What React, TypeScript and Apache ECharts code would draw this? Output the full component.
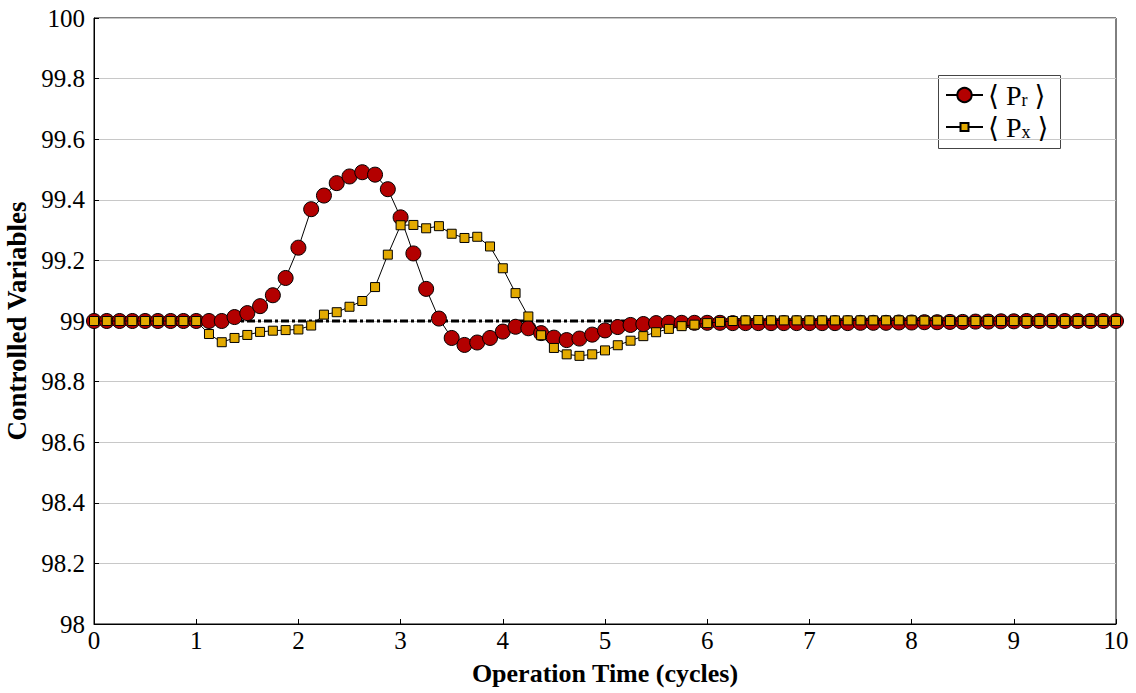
import React, { useEffect, useRef } from "react";
import * as echarts from "echarts";

const timeCycles = [
  0, 0.125, 0.25, 0.375, 0.5, 0.625, 0.75, 0.875,
  1, 1.125, 1.25, 1.375, 1.5, 1.625, 1.75, 1.875,
  2, 2.125, 2.25, 2.375, 2.5, 2.625, 2.75, 2.875,
  3, 3.125, 3.25, 3.375, 3.5, 3.625, 3.75, 3.875,
  4, 4.125, 4.25, 4.375, 4.5, 4.625, 4.75, 4.875,
  5, 5.125, 5.25, 5.375, 5.5, 5.625, 5.75, 5.875,
  6, 6.125, 6.25, 6.375, 6.5, 6.625, 6.75, 6.875,
  7, 7.125, 7.25, 7.375, 7.5, 7.625, 7.75, 7.875,
  8, 8.125, 8.25, 8.375, 8.5, 8.625, 8.75, 8.875,
  9, 9.125, 9.25, 9.375, 9.5, 9.625, 9.75, 9.875,
  10,
];

const prValues = [
  99, 99, 99, 99, 99, 99, 99, 99,
  99, 99, 99, 99.013, 99.026, 99.049, 99.085, 99.142,
  99.242, 99.369, 99.414, 99.455, 99.477, 99.491, 99.483, 99.435,
  99.342, 99.223, 99.106, 99.008, 98.944, 98.921, 98.929, 98.944,
  98.965, 98.981, 98.976, 98.96, 98.945, 98.937, 98.942, 98.955,
  98.969, 98.98, 98.987, 98.99, 98.993, 98.994, 98.994, 98.994,
  98.994, 98.994, 98.993, 98.993, 98.993, 98.993, 98.993, 98.993,
  98.993, 98.993, 98.993, 98.993, 98.994, 98.994, 98.994, 98.995,
  98.995, 98.996, 98.996, 98.997, 98.997, 98.998, 98.998, 98.999,
  98.999, 99, 99, 99, 99, 99, 99, 99,
  99,
];

const pxValues = [
  99, 99, 99, 99, 99, 99, 99, 99,
  99, 98.957, 98.93, 98.944, 98.954, 98.964, 98.968, 98.97,
  98.972, 98.985, 99.021, 99.029, 99.047, 99.066, 99.112, 99.219,
  99.316, 99.317, 99.306, 99.313, 99.288, 99.274, 99.278, 99.246,
  99.174, 99.092, 99.015, 98.953, 98.911, 98.89, 98.885, 98.89,
  98.903, 98.92, 98.935, 98.95, 98.963, 98.974, 98.983, 98.988,
  98.993, 98.997, 99.0, 99.002, 99.003, 99.002, 99.002, 99.002,
  99.002, 99.002, 99.002, 99.002, 99.002, 99.002, 99.002, 99.002,
  99.002, 99.001, 99.001, 99, 99, 99, 99, 99,
  99, 99, 99, 99, 99, 99, 99, 99,
  99,
];

const setpointTimes = [0, 10];
const setpointValues = [99, 99];

const FONT = "'Liberation Serif', 'DejaVu Serif', serif";

export default function App() {
  const ref = useRef<HTMLDivElement>(null);
  useEffect(() => {
    if (!ref.current) return;
    const chart = echarts.init(ref.current, null, { renderer: "svg" });
    const pair = (xs: number[], ys: number[]) => xs.map((x, i) => [x, ys[i]]);
    const legendRich = {
      s: { fontSize: 18, fontFamily: FONT, lineHeight: 18, padding: [13, 0, 0, 0], verticalAlign: "bottom" },
    };
    const legendFmt = (name: string) => (name === "Pr" ? "⟨ P{s|r} ⟩" : "⟨ P{s|x} ⟩");
    chart.setOption({
      animation: false,
      backgroundColor: "#ffffff",
      grid: {
        left: 94,
        right: 20,
        top: 18,
        bottom: 69,
        show: true,
        borderColor: "#000",
        borderWidth: 1,
        backgroundColor: "transparent",
        outerBoundsMode: "none",
        containLabel: false,
      },
      xAxis: {
        type: "value",
        min: 0,
        max: 10,
        interval: 1,
        name: "Operation Time (cycles)",
        nameLocation: "middle",
        nameGap: 36,
        nameTextStyle: { fontFamily: FONT, fontSize: 26, fontWeight: "bold", color: "#000" },
        axisLine: { show: true, lineStyle: { color: "#000", width: 1 } },
        axisTick: { show: true, inside: true, length: 5, lineStyle: { color: "#000" } },
        axisLabel: { fontFamily: FONT, fontSize: 25, color: "#000", margin: 4 },
        splitLine: { show: false },
      },
      yAxis: {
        type: "value",
        min: 98,
        max: 100,
        interval: 0.2,
        name: "Controlled Variables",
        nameLocation: "middle",
        nameGap: 57,
        nameRotate: 90,
        nameTextStyle: { fontFamily: FONT, fontSize: 27, fontWeight: "bold", color: "#000" },
        axisLine: { show: true, lineStyle: { color: "#000", width: 1 } },
        axisTick: { show: true, inside: true, length: 5, lineStyle: { color: "#000" } },
        axisLabel: { fontFamily: FONT, fontSize: 25, color: "#000", margin: 9 },
        splitLine: { show: true, lineStyle: { color: "#c8c8c8", width: 1 } },
      },
      legend: [
        {
          data: ["Pr"],
          left: 945,
          top: 78,
          padding: 0,
          orient: "vertical",
          itemWidth: 37,
          itemHeight: 18,
          formatter: legendFmt,
          textStyle: { fontFamily: FONT, fontSize: 28, color: "#000", rich: legendRich },
        },
        {
          data: ["Px"],
          left: 945,
          top: 110,
          padding: 0,
          orient: "vertical",
          itemWidth: 37,
          itemHeight: 10,
          formatter: legendFmt,
          textStyle: { fontFamily: FONT, fontSize: 28, color: "#000", rich: legendRich },
        },
      ],
      graphic: [
        {
          type: "rect",
          left: 938,
          top: 75,
          shape: { width: 122, height: 73 },
          style: { fill: "#fff", stroke: "#444", lineWidth: 1 },
          z: -1,
          zlevel: 0,
        },
      ],
      series: [
        {
          name: "Setpoint",
          type: "line",
          data: pair(setpointTimes, setpointValues),
          symbol: "none",
          lineStyle: { color: "#000", width: 3, type: [8, 3, 3, 3] },
          z: 1,
          silent: true,
        },
        {
          name: "Pr",
          type: "line",
          data: pair(timeCycles, prValues),
          symbol: "circle",
          symbolSize: 15,
          itemStyle: { color: "#b30000", borderColor: "#000", borderWidth: 1 },
          lineStyle: { color: "#000", width: 1 },
          z: 2,
        },
        {
          name: "Px",
          type: "line",
          data: pair(timeCycles, pxValues),
          symbol: "rect",
          symbolSize: 9,
          itemStyle: { color: "#e3aa00", borderColor: "#000", borderWidth: 1 },
          lineStyle: { color: "#000", width: 1 },
          z: 3,
        },
      ],
    });
    return () => chart.dispose();
  }, []);
  return (
    <div
      ref={ref}
      style={{ position: "absolute", left: 0, top: 0, width: 1136, height: 693 }}
    />
  );
}
